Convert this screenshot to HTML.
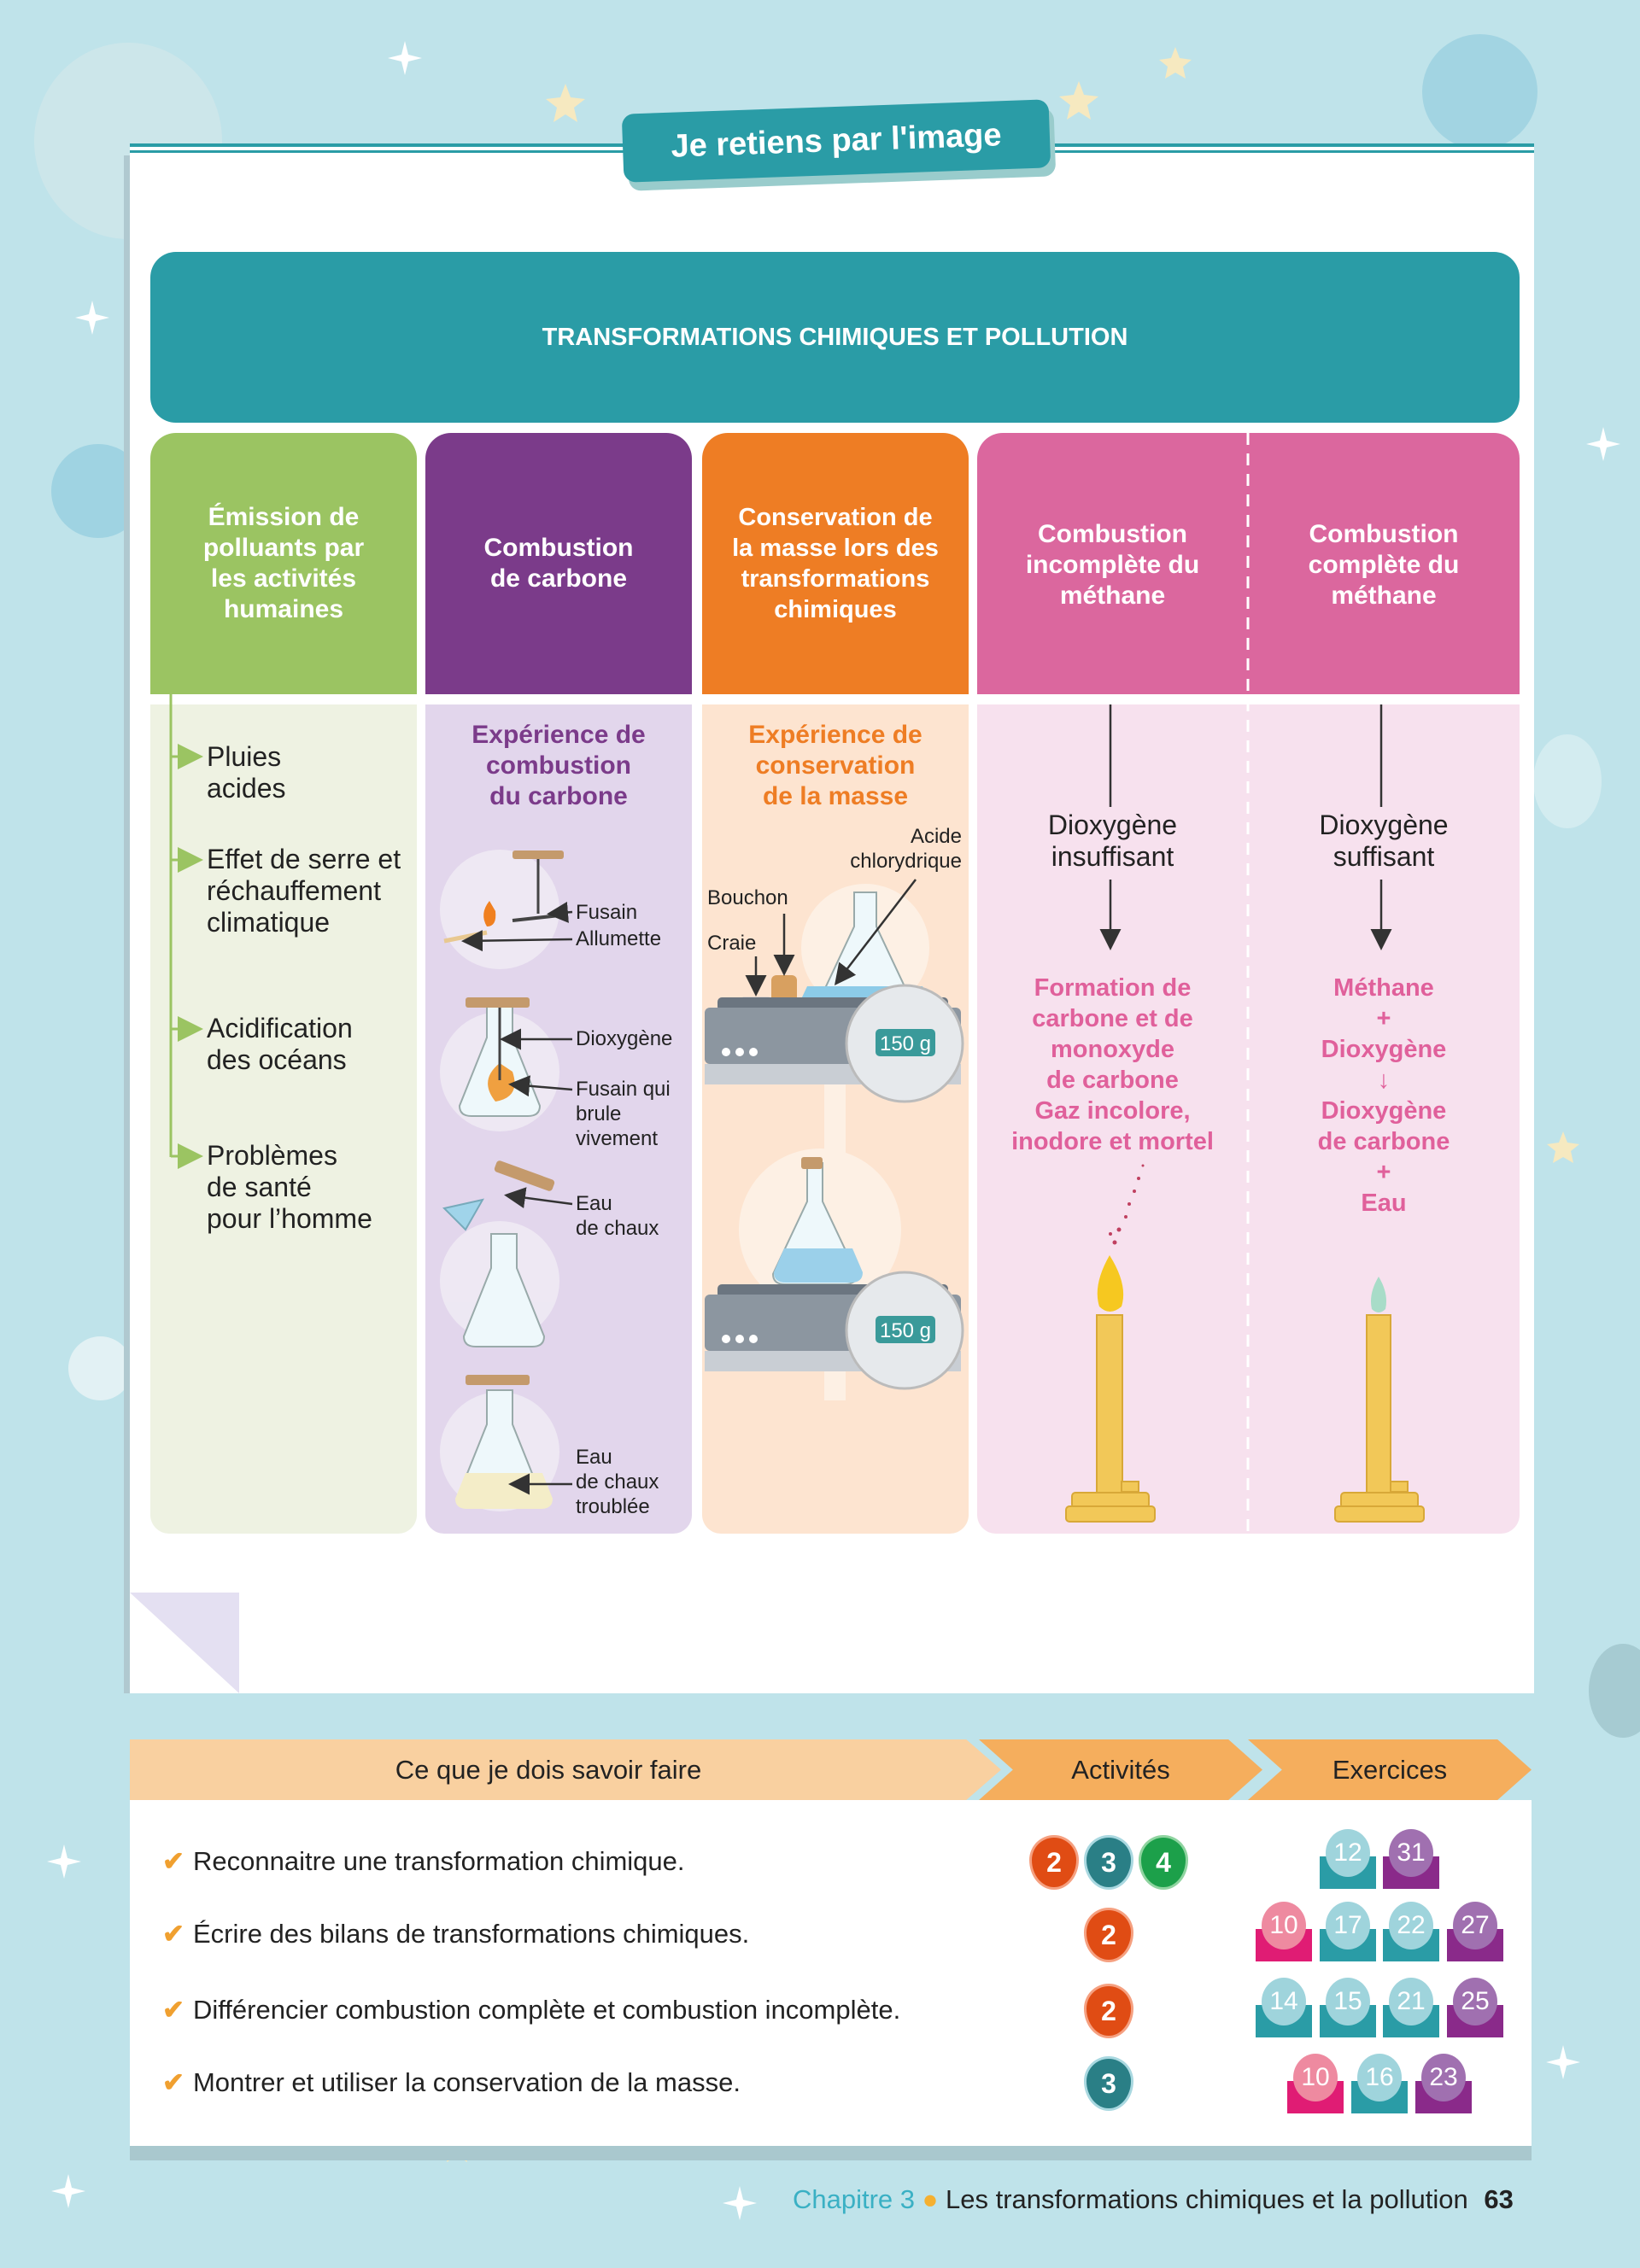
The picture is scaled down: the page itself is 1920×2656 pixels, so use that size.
<!DOCTYPE html>
<html><head><meta charset="utf-8">
<style>
*{margin:0;padding:0;box-sizing:border-box}
body{width:1920px;height:2656px;background:#bfe3ea;position:relative;overflow:hidden;font-family:"Liberation Sans",sans-serif}
.a{position:absolute}
.hd{position:absolute;top:507px;height:306px;border-radius:30px 30px 0 0;color:#fff;font-weight:bold;font-size:30px;line-height:36px;display:flex;align-items:center;justify-content:center;text-align:center}
.bd{position:absolute;top:825px;height:971px;border-radius:0 0 22px 22px}
.t{position:absolute;font-size:32px;line-height:37px;color:#222}
.lb{position:absolute;font-size:24px;line-height:29px;color:#222}
.ct{position:absolute;text-align:center;font-weight:bold;font-size:30px;line-height:36px}
.row{position:absolute;left:190px;font-size:31px;color:#222}
.row b{color:#f0a030;margin-right:10px}
.ab{position:absolute;width:52px;height:58px;border-radius:50% 50% 50% 50%/45% 45% 55% 55%;color:#fff;font-weight:bold;font-size:32px;text-align:center;line-height:58px}
.ex{position:absolute;width:66px;height:70px}
.ex i{position:absolute;left:0;bottom:0;width:66px;height:38px}
.ex s{position:absolute;left:7px;top:0;width:52px;height:56px;border-radius:50%;text-decoration:none;color:#fff;font-size:30px;text-align:center;line-height:56px}
</style></head><body>
<!-- decorations -->
<div class="a" style="left:40px;top:50px;width:220px;height:230px;border-radius:50%;background:#cfe6ea;opacity:.8"></div>
<div class="a" style="left:60px;top:520px;width:110px;height:110px;border-radius:50%;background:#9fd3e2"></div>
<div class="a" style="left:1665px;top:40px;width:135px;height:135px;border-radius:50%;background:#a2d4e2"></div>
<div class="a" style="left:1795px;top:860px;width:80px;height:110px;border-radius:50%;background:#d3ecf0"></div>
<div class="a" style="left:1860px;top:1925px;width:80px;height:110px;border-radius:50%;background:#a6cbd2"></div>
<div class="a" style="left:80px;top:1565px;width:75px;height:75px;border-radius:50%;background:#e2f1f4"></div>

<!-- white panel -->
<div class="a" style="left:145px;top:182px;width:1651px;height:1801px;background:#b0c9d0"></div>
<div class="a" style="left:152px;top:172px;width:1644px;height:1811px;background:#fff"></div>
<div class="a" style="left:152px;top:1865px;width:128px;height:118px;background:#e4e0f2;clip-path:polygon(0 0,100% 0,100% 100%)"></div>
<div class="a" style="left:152px;top:168px;width:1644px;height:4px;background:#2a9ca6"></div>
<div class="a" style="left:152px;top:176px;width:1644px;height:3px;background:#2a9ca6"></div>
<div class="a" style="left:735px;top:135px;width:500px;height:80px;background:#9cc;border-radius:14px;transform:rotate(-2deg)"></div>
<div class="a" style="left:729px;top:125px;width:500px;height:80px;background:#2a9ca6;border-radius:14px;transform:rotate(-2deg);color:#fff;font-weight:bold;font-size:38px;line-height:80px;text-align:center">Je retiens par l'image</div>

<!-- title -->
<div class="a" style="left:176px;top:295px;width:1603px;height:200px;background:#2a9ca6;border-radius:30px;color:#fff;font-weight:bold;font-size:29px;line-height:200px;text-align:center">TRANSFORMATIONS CHIMIQUES ET POLLUTION</div>

<!-- headers -->
<div class="hd" style="left:176px;width:312px;background:#9bc462">Émission de<br>polluants par<br>les activités<br>humaines</div>
<div class="hd" style="left:498px;width:312px;background:#7b3b8a">Combustion<br>de carbone</div>
<div class="hd" style="left:822px;width:312px;background:#ee7d24;font-size:29px">Conservation de<br>la masse lors des<br>transformations<br>chimiques</div>
<div class="hd" style="left:1144px;width:635px;background:#db679e"></div>
<div class="ct" style="left:1144px;top:608px;width:317px;color:#fff">Combustion<br>incomplète du<br>méthane</div>
<div class="ct" style="left:1461px;top:608px;width:318px;color:#fff">Combustion<br>complète du<br>méthane</div>

<!-- bodies -->
<div class="bd" style="left:176px;width:312px;background:#eef2e2"></div>
<div class="bd" style="left:498px;width:312px;background:#e2d6ec"></div>
<div class="bd" style="left:822px;width:312px;background:#fde4d0"></div>
<div class="bd" style="left:1144px;width:635px;background:#f7e1ee"></div>

<!-- left column text -->
<div class="t" style="left:242px;top:868px">Pluies<br>acides</div>
<div class="t" style="left:242px;top:988px">Effet de serre et<br>réchauffement<br>climatique</div>
<div class="t" style="left:242px;top:1186px">Acidification<br>des océans</div>
<div class="t" style="left:242px;top:1335px">Problèmes<br>de santé<br>pour l’homme</div>

<div class="ct" style="left:498px;top:843px;width:312px;color:#7b3b8a">Expérience de<br>combustion<br>du carbone</div>
<div class="ct" style="left:822px;top:843px;width:312px;color:#ee7d24">Expérience de<br>conservation<br>de la masse</div>

<div class="lb" style="left:674px;top:1054px">Fusain</div>
<div class="lb" style="left:674px;top:1085px">Allumette</div>
<div class="lb" style="left:674px;top:1202px">Dioxygène</div>
<div class="lb" style="left:674px;top:1261px">Fusain qui<br>brule<br>vivement</div>
<div class="lb" style="left:674px;top:1395px">Eau<br>de chaux</div>
<div class="lb" style="left:674px;top:1692px">Eau<br>de chaux<br>troublée</div>
<div class="lb" style="left:930px;top:965px;width:196px;text-align:right">Acide<br>chlorydrique</div>
<div class="lb" style="left:828px;top:1037px">Bouchon</div>
<div class="lb" style="left:828px;top:1090px">Craie</div>

<div class="t" style="left:1144px;top:948px;width:317px;text-align:center">Dioxygène<br>insuffisant</div>
<div class="t" style="left:1461px;top:948px;width:318px;text-align:center">Dioxygène<br>suffisant</div>
<div class="ct" style="left:1144px;top:1139px;width:317px;color:#e0609b;font-size:29px">Formation de<br>carbone et de<br>monoxyde<br>de carbone<br>Gaz incolore,<br>inodore et mortel</div>
<div class="ct" style="left:1461px;top:1139px;width:318px;color:#e0609b;font-size:29px">Méthane<br>+<br>Dioxygène<br>↓<br>Dioxygène<br>de carbone<br>+<br>Eau</div>

<svg class="a" style="left:0;top:0" width="1920" height="2656">
<defs><marker id="ar" markerWidth="10" markerHeight="10" refX="8" refY="5" orient="auto"><path d="M0,0 L10,5 L0,10z" fill="#333"/></marker>
<marker id="ag" markerWidth="10" markerHeight="10" refX="8" refY="5" orient="auto"><path d="M0,0 L10,5 L0,10z" fill="#9bc462"/></marker></defs>
<!-- stars -->
<g fill="#fff"><path d="M474,48 l4,16 16,4 -16,4 -4,16 -4,-16 -16,-4 16,-4z"/><path d="M108,352 l4,16 16,4 -16,4 -4,16 -4,-16 -16,-4 16,-4z"/><path d="M1877,500 l4,16 16,4 -16,4 -4,16 -4,-16 -16,-4 16,-4z"/><path d="M75,2160 l4,16 16,4 -16,4 -4,16 -4,-16 -16,-4 16,-4z"/><path d="M866,2560 l4,16 16,4 -16,4 -4,16 -4,-16 -16,-4 16,-4z"/><path d="M1830,2395 l4,16 16,4 -16,4 -4,16 -4,-16 -16,-4 16,-4z"/><path d="M80,2546 l4,16 16,4 -16,4 -4,16 -4,-16 -16,-4 16,-4z"/></g>
<g fill="#f6e9c0"><path d="M662,98 l6,16 17,2 -13,10 4,17 -14,-9 -14,9 4,-17 -13,-10 17,-2z"/><path d="M1263,95 l6,16 17,2 -13,10 4,17 -14,-9 -14,9 4,-17 -13,-10 17,-2z"/><path d="M1376,55 l5,13 14,2 -10,8 3,14 -12,-7 -12,7 3,-14 -10,-8 14,-2z"/><path d="M535,2495 l5,13 14,2 -10,8 3,14 -12,-7 -12,7 3,-14 -10,-8 14,-2z"/><path d="M1830,1325 l5,13 14,2 -10,8 3,14 -12,-7 -12,7 3,-14 -10,-8 14,-2z"/></g>
<!-- green connectors -->
<g stroke="#9bc462" stroke-width="3" fill="none"><line x1="200" y1="813" x2="200" y2="1355"/>
<line x1="200" y1="886" x2="232" y2="886" marker-end="url(#ag)"/><line x1="200" y1="1007" x2="232" y2="1007" marker-end="url(#ag)"/><line x1="200" y1="1205" x2="232" y2="1205" marker-end="url(#ag)"/><line x1="200" y1="1354" x2="232" y2="1354" marker-end="url(#ag)"/></g>
<!-- purple column illustrations -->
<g fill="#efeaf4" opacity=".9"><circle cx="585" cy="1065" r="70"/><circle cx="585" cy="1255" r="70"/><circle cx="585" cy="1500" r="70"/><circle cx="585" cy="1700" r="70"/></g>
<g stroke="#9aa" stroke-width="2" fill="#eef8fb">
<path d="M570,1175 v40 l-32,80 q0,12 14,12 h66 q14,0 14,-12 l-32,-80 v-40z"/>
<path d="M575,1445 v40 l-32,80 q0,12 14,12 h66 q14,0 14,-12 l-32,-80 v-40z"/>
<path d="M570,1628 v40 l-32,80 q0,12 14,12 h66 q14,0 14,-12 l-32,-80 v-40z"/>
</g>
<path d="M545,1725 h90 l12,30 q0,12 -14,12 h-86 q-14,0 -14,-12z" fill="#f4edc8"/>
<g fill="#c49a6c"><rect x="600" y="996" width="60" height="10" rx="3"/><rect x="545" y="1168" width="75" height="12" rx="3"/><rect x="545" y="1610" width="75" height="12" rx="3"/><rect x="578" y="1370" width="72" height="14" rx="4" transform="rotate(20 614 1377)"/></g>
<line x1="630" y1="1006" x2="630" y2="1070" stroke="#444" stroke-width="3"/><line x1="600" y1="1078" x2="655" y2="1072" stroke="#444" stroke-width="4"/>
<path d="M573,1055 q-12,15 -3,30 q12,0 10,-18z" fill="#f08020"/><line x1="520" y1="1102" x2="570" y2="1092" stroke="#e8c890" stroke-width="5"/>
<path d="M585,1245 q-25,20 -5,45 q30,-5 20,-35z" fill="#f0a040"/>
<line x1="585" y1="1180" x2="585" y2="1265" stroke="#444" stroke-width="3"/>
<path d="M520,1415 l45,-10 -20,35z" fill="#a0d4ea" stroke="#7ab" stroke-width="2"/>
<g stroke="#333" stroke-width="2.5" fill="none">
<line x1="670" y1="1068" x2="645" y2="1070" marker-end="url(#ar)"/><line x1="670" y1="1100" x2="545" y2="1102" marker-end="url(#ar)"/><line x1="670" y1="1217" x2="590" y2="1217" marker-end="url(#ar)"/><line x1="670" y1="1276" x2="600" y2="1270" marker-end="url(#ar)"/><line x1="670" y1="1410" x2="595" y2="1400" marker-end="url(#ar)"/><line x1="670" y1="1738" x2="600" y2="1738" marker-end="url(#ar)"/>
</g>
<!-- orange column -->
<g fill="#fdf0e4"><circle cx="1013" cy="1110" r="75"/><circle cx="960" cy="1440" r="95"/></g>
<rect x="965" y="1190" width="25" height="450" fill="#fdf0e4"/>
<g stroke="#9aa" stroke-width="2" fill="#eef8fb"><path d="M1000,1045 v40 l-40,85 q0,8 10,8 h86 q10,0 10,-8 l-40,-85 v-40z"/><path d="M945,1362 v45 l-40,85 q0,12 14,12 h70 q14,0 14,-12 l-40,-85 v-45z"/></g>
<path d="M945,1155 h135 l8,15 q0,8 -10,8 h-130 q-10,0 -10,-8z" fill="#8ccbe8"/><path d="M918,1462 h80 l12,28 q0,12 -14,12 h-76 q-14,0 -14,-12z" fill="#9bd0ea"/>
<rect x="938" y="1355" width="25" height="14" rx="3" fill="#c49a6c"/>
<rect x="903" y="1142" width="30" height="36" rx="6" fill="#d8a060"/><rect x="870" y="1168" width="30" height="12" fill="#fff" stroke="#ccc"/>
<g><rect x="840" y="1168" width="270" height="16" rx="5" fill="#6b7580"/><rect x="825" y="1180" width="300" height="66" rx="6" fill="#8c96a0"/><rect x="825" y="1246" width="300" height="24" fill="#c9ced4"/>
<circle cx="850" cy="1232" r="5" fill="#fff"/><circle cx="866" cy="1232" r="5" fill="#fff"/><circle cx="882" cy="1232" r="5" fill="#fff"/>
<circle cx="1059" cy="1222" r="68" fill="#e6e9ec" stroke="#bbb" stroke-width="3"/><rect x="1025" y="1205" width="70" height="32" rx="5" fill="#3a9a9a"/><text x="1060" y="1230" font-size="24" fill="#fff" text-anchor="middle">150 g</text></g>
<g transform="translate(0,336)"><rect x="840" y="1168" width="270" height="16" rx="5" fill="#6b7580"/><rect x="825" y="1180" width="300" height="66" rx="6" fill="#8c96a0"/><rect x="825" y="1246" width="300" height="24" fill="#c9ced4"/>
<circle cx="850" cy="1232" r="5" fill="#fff"/><circle cx="866" cy="1232" r="5" fill="#fff"/><circle cx="882" cy="1232" r="5" fill="#fff"/>
<circle cx="1059" cy="1222" r="68" fill="#e6e9ec" stroke="#bbb" stroke-width="3"/><rect x="1025" y="1205" width="70" height="32" rx="5" fill="#3a9a9a"/><text x="1060" y="1230" font-size="24" fill="#fff" text-anchor="middle">150 g</text></g>
<g stroke="#333" stroke-width="2.5"><line x1="1072" y1="1030" x2="980" y2="1150" marker-end="url(#ar)"/><line x1="918" y1="1070" x2="918" y2="1138" marker-end="url(#ar)"/><line x1="885" y1="1120" x2="885" y2="1162" marker-end="url(#ar)"/></g>
<!-- pink columns -->
<line x1="1461" y1="507" x2="1461" y2="1796" stroke="#fff" stroke-width="3" stroke-dasharray="14,10"/>
<g stroke="#333" stroke-width="2.5"><line x1="1300" y1="825" x2="1300" y2="945"/><line x1="1617" y1="825" x2="1617" y2="945"/><line x1="1300" y1="1030" x2="1300" y2="1108" marker-end="url(#ar)"/><line x1="1617" y1="1030" x2="1617" y2="1108" marker-end="url(#ar)"/></g>
<g fill="#f2c858" stroke="#d8a838" stroke-width="2">
<rect x="1284" y="1540" width="30" height="210"/><rect x="1255" y="1748" width="90" height="18" rx="4"/><rect x="1248" y="1764" width="104" height="18" rx="4"/><rect x="1313" y="1735" width="20" height="12"/>
<rect x="1600" y="1540" width="28" height="210"/><rect x="1570" y="1748" width="90" height="18" rx="4"/><rect x="1563" y="1764" width="104" height="18" rx="4"/><rect x="1628" y="1735" width="20" height="12"/>
</g>
<path d="M1299,1470 q-20,35 -12,60 q12,12 26,0 q8,-25 -14,-60z" fill="#f6c820"/>
<path d="M1614,1495 q-12,20 -8,38 q8,8 16,0 q4,-18 -8,-38z" fill="#a8dcc8"/>
<g fill="#c04060"><circle cx="1305" cy="1455" r="2.5"/><circle cx="1310" cy="1440" r="2.5"/><circle cx="1318" cy="1425" r="2"/><circle cx="1322" cy="1410" r="2"/><circle cx="1328" cy="1395" r="2"/><circle cx="1333" cy="1380" r="2"/><circle cx="1338" cy="1365" r="1.5"/><circle cx="1300" cy="1445" r="2"/></g>
</svg>

<!-- bottom table -->
<div class="a" style="left:152px;top:2115px;width:1641px;height:415px;background:#a9c8ce"></div>
<div class="a" style="left:152px;top:2108px;width:1641px;height:405px;background:#fff"></div>
<div class="a" style="left:152px;top:2037px;width:1020px;height:71px;background:#f9d0a0;clip-path:polygon(0 0,96% 0,100% 50%,96% 100%,0 100%);font-size:31px;line-height:71px;text-align:center;color:#222;padding-right:40px">Ce que je dois savoir faire</div>
<div class="a" style="left:1146px;top:2037px;width:332px;height:71px;background:#f5ae5d;clip-path:polygon(0 0,88% 0,100% 50%,88% 100%,0 100%,12% 50%);font-size:31px;line-height:71px;text-align:center;color:#222">Activités</div>
<div class="a" style="left:1461px;top:2037px;width:332px;height:71px;background:#f5ae5d;clip-path:polygon(0 0,88% 0,100% 50%,88% 100%,0 100%,12% 50%);font-size:31px;line-height:71px;text-align:center;color:#222">Exercices</div>

<div class="row" style="top:2162px"><b>✔</b>Reconnaitre une transformation chimique.</div>
<div class="row" style="top:2247px"><b>✔</b>Écrire des bilans de transformations chimiques.</div>
<div class="row" style="top:2336px"><b>✔</b>Différencier combustion complète et combustion incomplète.</div>
<div class="row" style="top:2421px"><b>✔</b>Montrer et utiliser la conservation de la masse.</div>

<div class="ab" style="left:1208px;top:2152px;background:#e04c14;box-shadow:0 0 0 3px #f5a080">2</div>
<div class="ab" style="left:1272px;top:2152px;background:#2a7f86;box-shadow:0 0 0 3px #a9d8e0">3</div>
<div class="ab" style="left:1336px;top:2152px;background:#1ca04a;box-shadow:0 0 0 3px #8fd4a0">4</div>
<div class="ab" style="left:1272px;top:2237px;background:#e04c14;box-shadow:0 0 0 3px #f5a080">2</div>
<div class="ab" style="left:1272px;top:2326px;background:#e04c14;box-shadow:0 0 0 3px #f5a080">2</div>
<div class="ab" style="left:1272px;top:2411px;background:#2a7f86;box-shadow:0 0 0 3px #a9d8e0">3</div>

<div class="ex" style="left:1545px;top:2142px"><i style="background:#2a9ca6"></i><s style="background:#9fd4dc">12</s></div>
<div class="ex" style="left:1619px;top:2142px"><i style="background:#8a2a8a"></i><s style="background:#a070b0">31</s></div>
<div class="ex" style="left:1470px;top:2227px"><i style="background:#e01c74"></i><s style="background:#ee8aa0">10</s></div>
<div class="ex" style="left:1545px;top:2227px"><i style="background:#2a9ca6"></i><s style="background:#9fd4dc">17</s></div>
<div class="ex" style="left:1619px;top:2227px"><i style="background:#2a9ca6"></i><s style="background:#9fd4dc">22</s></div>
<div class="ex" style="left:1694px;top:2227px"><i style="background:#8a2a8a"></i><s style="background:#a070b0">27</s></div>
<div class="ex" style="left:1470px;top:2316px"><i style="background:#2a9ca6"></i><s style="background:#9fd4dc">14</s></div>
<div class="ex" style="left:1545px;top:2316px"><i style="background:#2a9ca6"></i><s style="background:#9fd4dc">15</s></div>
<div class="ex" style="left:1619px;top:2316px"><i style="background:#2a9ca6"></i><s style="background:#9fd4dc">21</s></div>
<div class="ex" style="left:1694px;top:2316px"><i style="background:#8a2a8a"></i><s style="background:#a070b0">25</s></div>
<div class="ex" style="left:1507px;top:2405px"><i style="background:#e01c74"></i><s style="background:#ee8aa0">10</s></div>
<div class="ex" style="left:1582px;top:2405px"><i style="background:#2a9ca6"></i><s style="background:#9fd4dc">16</s></div>
<div class="ex" style="left:1657px;top:2405px"><i style="background:#8a2a8a"></i><s style="background:#a070b0">23</s></div>

<div class="a" style="left:928px;top:2558px;font-size:31px;color:#222;white-space:nowrap"><span style="color:#3ab0c4">Chapitre 3</span> <span style="color:#f5b030">●</span> Les transformations chimiques et la pollution <b style="margin-left:10px">63</b></div>
</body></html>
